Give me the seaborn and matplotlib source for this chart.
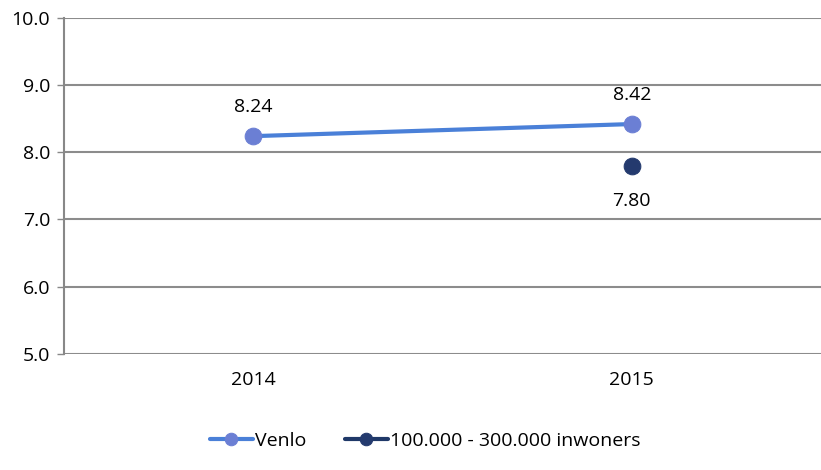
import matplotlib
matplotlib.use("Agg")
import matplotlib.pyplot as plt
import seaborn as sns
import pandas as pd
import numpy as np

# data
years = ["2014", "2015"]
venlo = [8.24, 8.42]
groep = [np.nan, 7.80]
series_names = ["Venlo", "100.000 - 300.000 inwoners"]

sns.set_style("white")
plt.rcParams['font.family'] = ['Open Sans', 'DejaVu Sans']
plt.rcParams['text.color'] = 'black'
plt.rcParams['xtick.color'] = 'black'
plt.rcParams['ytick.color'] = 'black'

df = pd.DataFrame({"jaar": years, "Venlo": venlo, "groep": groep})

fig = plt.figure(figsize=(8.21, 4.70), dpi=100)
ax = fig.add_axes([0.078, 0.247, 0.922, 0.715])

# Venlo line
sns.lineplot(data=df, x="jaar", y="Venlo", ax=ax, color="#4a80d8", linewidth=3,
             marker="o", markersize=12, markerfacecolor="#6b7fd4",
             markeredgecolor="#6b7fd4", label=series_names[0], sort=False)
# size class
sns.lineplot(data=df, x="jaar", y="groep", ax=ax, color="#1f3868", linewidth=3,
             marker="o", markersize=12, markerfacecolor="#243a6e",
             markeredgecolor="#243a6e", label=series_names[1], sort=False)

# labels
for i, v in enumerate(venlo):
    ax.text(i, v + 0.43, f"{v:.2f}", ha="center", va="center", fontsize=14)
for i, v in enumerate(groep):
    if not np.isnan(v):
        ax.text(i, v - 0.52, f"{v:.2f}", ha="center", va="center", fontsize=14)

ax.set_ylim(5, 10)
ax.set_xlim(-0.5, 1.5)
ax.set_yticks([5, 6, 7, 8, 9, 10])
ax.set_yticklabels([f"{t:.1f}" for t in [5, 6, 7, 8, 9, 10]], fontsize=14)
ax.set_xticks([0, 1])
ax.set_xticklabels(years, fontsize=14)
ax.tick_params(axis="x", length=0, pad=12)
ax.tick_params(axis="y", length=5, width=1, color="#888888", pad=5, left=True)
ax.set_xticks([0.5], minor=True)
ax.tick_params(axis="x", which="minor", length=4, color="#cccccc")
ax.yaxis.grid(True, color="#8c8c8c", linewidth=1.5)
ax.set_axisbelow(True)
ax.set_xlabel("")
ax.set_ylabel("")
for s in ["top", "right", "bottom"]:
    ax.spines[s].set_visible(False)
ax.spines["left"].set_color("#888888")
ax.spines["left"].set_linewidth(1.5)

ax.legend(loc="upper center", bbox_to_anchor=(0.477, -0.18), ncol=2,
          frameon=False, fontsize=14, handlelength=2.2, handletextpad=0.1,
          columnspacing=2.0, markerscale=0.75)

fig.savefig("out.png", dpi=100)
